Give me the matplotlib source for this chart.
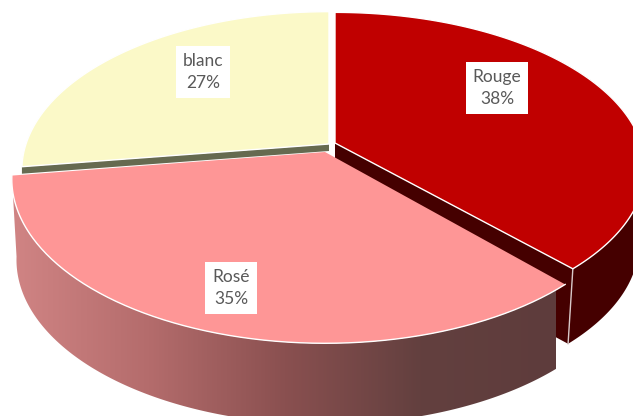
import numpy as np
import matplotlib
matplotlib.use("Agg")
import matplotlib.pyplot as plt
from matplotlib.colors import LinearSegmentedColormap
from matplotlib.patches import Polygon

# shares, blanc/rose read a bit off the rounded labels so the cut lands right
categories = ["Rouge", "Rosé", "blanc"]
shares = [38.0, 34.7, 27.3]

top_colors = ["#C00000", "#FE9696", "#FBF9C8"]
wall_color = "#450000"
stripe_color = "#666A50"

# centre of each exploded slice on the picture
centers = [(335, 143), (325, 152), (329, 144)]
radius_x = [306, 309, 303]
radius_y = [152, 160, 154]
depths = [75, 81, 7]
bottom_scales = [0.98, 0.985, 1.0]
persp = 0.1636


def project(i, theta, z=0.0):
    # theta in radians clockwise from 12 o'clock
    cx, cy = centers[i]
    xx = np.sin(theta)
    yy = -np.cos(theta)
    w = 1 - persp * yy
    s = 1 - (1 - bottom_scales[i]) * z
    return cx + s * radius_x[i] * xx / w, cy + radius_y[i] * yy / w + depths[i] * z


def arc(i, t1, t2, z=0.0):
    theta = np.linspace(t1, t2, 200)
    return np.column_stack(project(i, theta, z))


fig = plt.figure(figsize=(6.33, 4.16), dpi=100)
ax = fig.add_axes([0, 0, 1, 1])

edges = np.radians(np.concatenate([[0], np.cumsum(shares)]) * 3.6)
t_red = (edges[0], edges[1])
t_rose = (edges[1], edges[2])
t_blanc = (edges[2], edges[3])

# blanc: thin cut face then top
cx, cy = centers[2]
left = arc(2, t_blanc[0], t_blanc[0])[0]
stripe = [(cx, cy), left, (left[0], left[1] + depths[2]), (cx, cy + depths[2])]
ax.add_patch(Polygon(stripe, closed=True, fc=stripe_color, ec="none", zorder=1))
pts = np.vstack([[centers[2]], arc(2, *t_blanc)])
ax.add_patch(Polygon(pts, closed=True, fc=top_colors[2], ec="white", lw=1, zorder=2))

# rouge: cut face, outer wall, top
cx, cy = centers[0]
tip = arc(0, t_red[1], t_red[1])[0]
tip_low = arc(0, t_red[1], t_red[1], 1.0)[0]
cut = [(cx, cy), tip, tip_low, (cx, cy + depths[0])]
ax.add_patch(Polygon(cut, closed=True, fc=wall_color, ec="none", zorder=3))
pts = np.vstack([arc(0, np.pi / 4, t_red[1]), arc(0, t_red[1], np.pi / 4, 1.0)])
ax.add_patch(Polygon(pts, closed=True, fc=wall_color, ec="none", zorder=3))
ax.plot([tip[0], tip_low[0]], [tip[1], tip_low[1]], color="#D8C8C8", lw=1, zorder=4)
pts = np.vstack([[centers[0]], arc(0, *t_red)])
ax.add_patch(Polygon(pts, closed=True, fc=top_colors[0], ec="white", lw=1, zorder=4))

# rose: gradient wall, top
wall_cmap = LinearSegmentedColormap.from_list(
    "wall", ["#D08484", "#B46C6C", "#8A5050", "#63403F", "#5E3C3C"])
pts = np.vstack([arc(1, t_rose[0], t_rose[1]), arc(1, t_rose[1], t_rose[0], 1.0)])
wall = Polygon(pts, closed=True, fc="none", ec="none", zorder=5)
ax.add_patch(wall)
grad = np.linspace(0, 1, 256).reshape(1, -1)
im = ax.imshow(grad, cmap=wall_cmap, extent=[13, 556, 430, 150], aspect="auto", zorder=5)
im.set_clip_path(wall)
pts = np.vstack([[centers[1]], arc(1, *t_rose)])
ax.add_patch(Polygon(pts, closed=True, fc=top_colors[1], ec="none", zorder=6))
ax.plot(*arc(1, *t_rose).T, color="white", lw=1, zorder=6)

# labels
label_pos = [(497, 88), (231, 288), (203, 72)]
for name, share, (lx, ly) in zip(categories, shares, label_pos):
    ax.text(lx, ly, f"{name}\n{share:.0f}%", ha="center", va="center", family="Lato",
            fontsize=12.5, color="#595959", linespacing=1.45, zorder=7,
            bbox=dict(fc="white", ec="none", pad=5))

ax.set_xlim(0, 633)
ax.set_ylim(416, 0)
ax.axis("off")
fig.savefig("out.png", dpi=100)
